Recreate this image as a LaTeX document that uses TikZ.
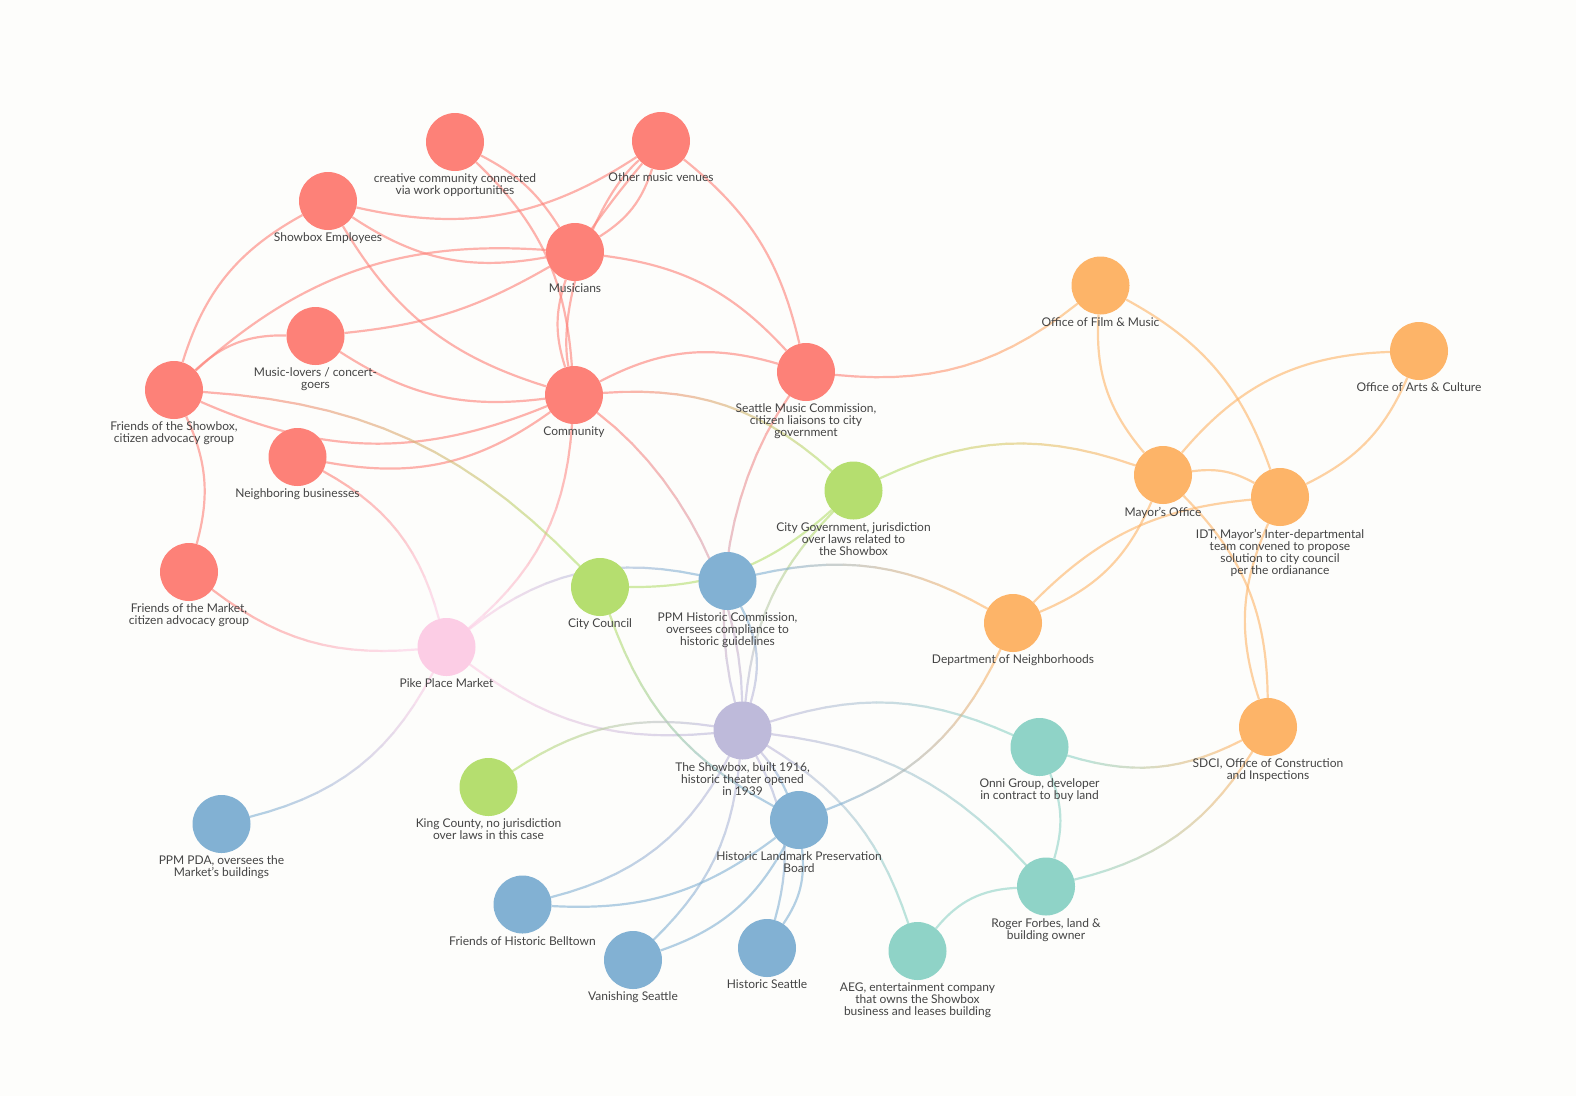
\documentclass[tikz,border=0pt]{standalone}
\usepackage{fontspec}
\setmainfont{Lato}
\usetikzlibrary{backgrounds}

\definecolor{paper}{HTML}{FDFDFB}
\definecolor{tagtext}{HTML}{444444}
\definecolor{redhub}{HTML}{FD8178}
\definecolor{orangehub}{HTML}{FDB468}
\definecolor{greenhub}{HTML}{B5DE6F}
\definecolor{tealhub}{HTML}{8FD3C7}
\definecolor{bluehub}{HTML}{82B1D3}
\definecolor{purplehub}{HTML}{BEBADA}
\definecolor{pinkhub}{HTML}{FCCDE5}

\tikzset{
  hub/.style={circle, fill=#1, minimum size=58pt, inner sep=0pt},
  tag/.style={font=\fontsize{12}{12}\selectfont, text=tagtext, align=center, inner sep=0pt, execute at begin node=\strut},
  link/.style={draw=#1, line width=2.2pt, opacity=.6},
}

% a connector whose colour runs from one end to the other
\newcommand{\blend}[5]{
  \foreach \i in {0,...,14}{\path (#1) to[#3] coordinate[pos=\i/14] (s\i) (#2);}
  \begin{scope}[transparency group, opacity=.6]
    \foreach \i [evaluate=\i as \j using int(\i+1), evaluate=\i as \m using 100-\i*100/13] in {0,...,13}
      \draw[#4!\m!#5, line width=2.2pt, line cap=round] (s\i) -- (s\j);
  \end{scope}
}

\begin{document}
\begin{tikzpicture}[x=1pt, y=-1pt, every label/.style={tag}, label distance=2.6pt]
  \useasboundingbox (0,0) rectangle (1576,1096);

  % red
  \node[hub=redhub, label=below:{creative community connected\\via work opportunities}] (creative) at (455,142) {};
  \node[hub=redhub, label=below:{Other music venues}] (venues) at (661,141) {};
  \node[hub=redhub, label=below:{Showbox Employees}] (staff) at (328,201) {};
  \node[hub=redhub, label=below:{Musicians}] (musicians) at (575,252) {};
  \node[hub=redhub, label=below:{Music-lovers / concert-\\goers}] (lovers) at (315.5,336) {};
  \node[hub=redhub, label=below:{Friends of the Showbox,\\citizen advocacy group}] (friendsshow) at (174,390) {};
  \node[hub=redhub, label=below:{Community}] (community) at (574,395) {};
  \node[hub=redhub, label=below:{Seattle Music Commission,\\citizen liaisons to city\\government}] (commission) at (806,372) {};
  \node[hub=redhub, label=below:{Neighboring businesses}] (neighbors) at (297.5,457) {};
  \node[hub=redhub, label=below:{Friends of the Market,\\citizen advocacy group}] (friendsmarket) at (189,572) {};
  % pink
  \node[hub=pinkhub, label=below:{Pike Place Market}] (pike) at (446.5,647) {};
  % green
  \node[hub=greenhub, label=below:{City Council}] (council) at (600,587) {};
  \node[hub=greenhub, label=below:{City Government, jurisdiction\\over laws related to\\the Showbox}] (citygov) at (853.5,490.5) {};
  \node[hub=greenhub, label=below:{King County, no jurisdiction\\over laws in this case}] (king) at (488.5,787) {};
  % orange
  \node[hub=orangehub, label=below:{Department of Neighborhoods}] (neighborhoods) at (1013,623) {};
  \node[hub=orangehub, label=below:{Mayor's Office}] (mayor) at (1163,475) {};
  \node[hub=orangehub, label=below:{IDT, Mayor's Inter-departmental\\team convened to propose\\solution to city council\\per the ordianance}] (idt) at (1280,497) {};
  \node[hub=orangehub, label=below:{Office of Film \& Music}] (film) at (1100.5,285.5) {};
  \node[hub=orangehub, label=below:{Office of Arts \& Culture}] (arts) at (1419,351) {};
  \node[hub=orangehub, label=below:{SDCI, Office of Construction\\and Inspections}] (sdci) at (1268,727) {};
  % teal
  \node[hub=tealhub, label=below:{Onni Group, developer\\in contract to buy land}] (onni) at (1039.5,747) {};
  \node[hub=tealhub, label=below:{Roger Forbes, land \&\\building owner}] (roger) at (1046,886.5) {};
  \node[hub=tealhub, label=below:{AEG, entertainment company\\that owns the Showbox\\business and leases building}] (aeg) at (917.5,951) {};
  % blue
  \node[hub=bluehub, label=below:{PPM Historic Commission,\\oversees compliance to\\historic guidelines}] (ppmhc) at (727.5,581) {};
  \node[hub=bluehub, label=below:{Historic Landmark Preservation\\Board}] (landmark) at (799,820) {};
  \node[hub=bluehub, label=below:{PPM PDA, oversees the\\Market's buildings}] (pda) at (221.5,824) {};
  \node[hub=bluehub, label=below:{Friends of Historic Belltown}] (belltown) at (522.5,904.5) {};
  \node[hub=bluehub, label=below:{Vanishing Seattle}] (vanishing) at (633,960) {};
  \node[hub=bluehub, label=below:{Historic Seattle}] (hseattle) at (767,948) {};
  % purple
  \node[hub=purplehub, label=below:{The Showbox, built 1916,\\historic theater opened\\in 1939}] (showbox) at (742.5,730.5) {};

  \begin{pgfonlayer}{background}
    \fill[paper] (0,0) rectangle (1576,1096);

    \draw[link=redhub] (creative) to[bend left=15] (musicians);
    \draw[link=redhub] (creative) to[bend left=21] (community);
    \draw[link=redhub] (staff) to[bend right=23] (venues);
    \draw[link=redhub] (staff) to[bend right=22] (musicians);
    \draw[link=redhub] (staff) to[bend right=21] (community);
    \draw[link=redhub] (staff) to[bend right=22] (friendsshow);
    \draw[link=redhub] (friendsshow) to[bend left=23] (musicians);
    \draw[link=redhub] (lovers) to[bend right=12] (musicians);
    \draw[link=redhub] (friendsshow) to[bend left=22] (lovers);
    \draw[link=redhub] (lovers) to[bend right=20] (community);
    \draw[link=redhub] (friendsshow) to[bend right=23] (community);
    \draw[link=redhub] (neighbors) to[bend right=23] (community);
    \draw[link=redhub] (musicians) to[bend left=20] (commission);
    \draw[link=redhub] (venues) to[bend left=19] (commission);
    \draw[link=redhub] (community) to[bend left=22] (commission);
    \draw[link=redhub] (friendsshow) to[bend left=20] (friendsmarket);
    \draw[link=redhub] (venues) to[bend right=30, looseness=.7] (community);
    \draw[link=redhub] (musicians) to[bend right=18] (community);
    \draw[link=redhub] (venues) to[bend right=2] (musicians);
    \draw[link=redhub] (venues) to[bend left=20] (musicians);

    \blend{commission}{film}{bend right=22}{redhub}{orangehub}
    \blend{commission}{showbox}{bend right=25, looseness=.85}{redhub}{purplehub}
    \blend{community}{showbox}{bend left=26, looseness=.85}{redhub}{purplehub}
    \blend{community}{pike}{bend left=23}{redhub}{pinkhub}
    \blend{community}{citygov}{bend left=23}{redhub}{greenhub}
    \blend{friendsshow}{council}{bend left=21}{redhub}{greenhub}
    \blend{neighbors}{pike}{bend left=23}{redhub}{pinkhub}
    \blend{friendsmarket}{pike}{bend right=21}{redhub}{pinkhub}

    \blend{pike}{pda}{bend left=24}{pinkhub}{bluehub}
    \blend{pike}{ppmhc}{bend left=25}{pinkhub}{bluehub}
    \blend{pike}{showbox}{bend right=21}{pinkhub}{purplehub}

    \draw[link=greenhub] (citygov) to[bend left=21] (council);
    \blend{citygov}{mayor}{bend left=22}{greenhub}{orangehub}
    \blend{citygov}{showbox}{bend right=19}{greenhub}{purplehub}
    \blend{council}{landmark}{bend right=21}{greenhub}{bluehub}
    \blend{king}{showbox}{bend left=21}{greenhub}{purplehub}

    \blend{ppmhc}{neighborhoods}{bend left=21}{bluehub}{orangehub}
    \blend{ppmhc}{showbox}{bend left=22}{bluehub}{purplehub}

    \blend{showbox}{onni}{bend left=21}{purplehub}{tealhub}
    \blend{showbox}{roger}{bend left=20}{purplehub}{tealhub}
    \blend{showbox}{aeg}{bend left=20}{purplehub}{tealhub}
    \blend{showbox}{belltown}{bend left=24}{purplehub}{bluehub}
    \blend{showbox}{vanishing}{bend left=20}{purplehub}{bluehub}
    \blend{showbox}{hseattle}{bend left=22}{purplehub}{bluehub}
    \blend{showbox}{landmark}{bend left=8}{purplehub}{bluehub}

    \draw[link=bluehub] (landmark) to[bend left=20] (belltown);
    \draw[link=bluehub] (landmark) to[bend left=21] (vanishing);
    \draw[link=bluehub] (landmark) to[bend left=20] (hseattle);
    \blend{landmark}{neighborhoods}{bend right=22}{bluehub}{orangehub}

    \draw[link=orangehub] (film) to[bend right=22] (mayor);
    \draw[link=orangehub] (film) to[bend left=21] (idt);
    \draw[link=orangehub] (mayor) to[bend left=24] (arts);
    \draw[link=orangehub] (idt) to[bend right=20] (arts);
    \draw[link=orangehub] (mayor) to[bend left=18] (idt);
    \draw[link=orangehub] (mayor) to[bend left=22] (neighborhoods);
    \draw[link=orangehub] (idt) to[bend right=20] (neighborhoods);
    \draw[link=orangehub] (idt) to[bend right=21] (sdci);
    \draw[link=orangehub] (mayor) to[bend left=22] (sdci);

    \blend{onni}{sdci}{bend right=22}{tealhub}{orangehub}
    \blend{roger}{sdci}{bend right=22}{tealhub}{orangehub}
    \draw[link=tealhub] (onni) to[bend left=19] (roger);
    \draw[link=tealhub] (aeg) to[bend left=24] (roger);
  \end{pgfonlayer}
\end{tikzpicture}
\end{document}
